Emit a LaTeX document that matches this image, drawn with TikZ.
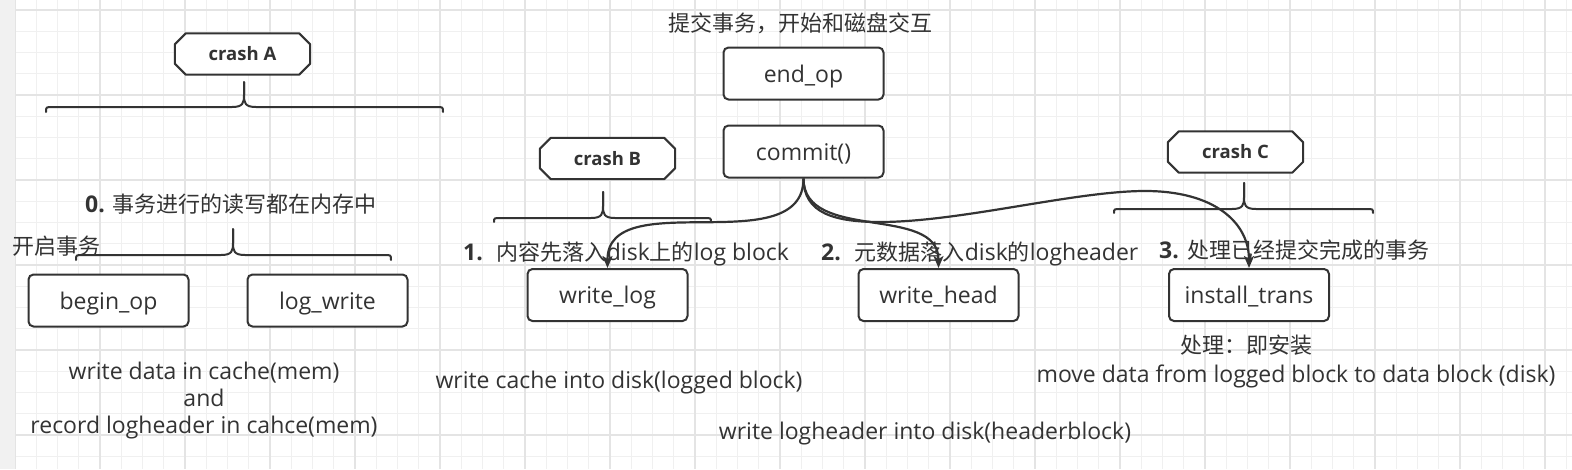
\documentclass[tikz,border=0pt]{standalone}
\usepackage{fontspec}
\setmainfont{Open Sans}
\newfontfamily\cjk{Noto Sans CJK SC}
\newcommand\zh[1]{{\cjk\fontsize{22}{27}\selectfont #1}}
\usetikzlibrary{arrows.meta}
\definecolor{ink}{HTML}{333333}
\definecolor{gridminor}{HTML}{F0F0F0}
\definecolor{gridmajor}{HTML}{E4E4E4}
\definecolor{strip}{HTML}{F1F1F1}
% L R M A E T
\newcommand\curlyb[6]{%
 \draw[bracel] (#1,#5) .. controls (#1,#4) .. (#1+7,#4) -- (#3-12,#4) .. controls (#3-1,#4) and (#3,#4-4) .. (#3,#4-12) -- (#3,#6);
 \draw[bracel] (#2,#5) .. controls (#2,#4) .. (#2-7,#4) -- (#3+12,#4) .. controls (#3+1,#4) and (#3,#4-4) .. (#3,#4-12) -- (#3,#6);}
\newcommand\crashbox[3]{%
 \node[crashtxt] (#1) at (#2) {};
 \filldraw[crashline] ([xshift=11pt]#1.north west) -- ([xshift=-11pt]#1.north east) -- ([yshift=-11pt]#1.north east) -- ([yshift=11pt]#1.south east) -- ([xshift=-11pt]#1.south east) -- ([xshift=11pt]#1.south west) -- ([yshift=11pt]#1.south west) -- ([yshift=-11pt]#1.north west) -- cycle;
 \node[crashtxt] at (#1.center) {#3};}
\begin{document}
\begin{tikzpicture}[x=1pt,y=-1pt,
  txt/.style={text=ink,font=\fontsize{23}{27}\selectfont,inner sep=0pt},
  box/.style={draw=ink,line width=2pt,rounded corners=5pt,fill=white,minimum width=160pt,minimum height=52pt,text=ink,font=\fontsize{23}{27}\selectfont,inner sep=0pt,text height=17pt,text depth=0pt},
  crashtxt/.style={minimum width=135pt,minimum height=41pt,inner sep=0pt,text=ink,font=\fontsize{18.5}{22}\selectfont\bfseries},
  crashline/.style={draw=ink,line width=2pt,fill=white,line join=round},
  bracel/.style={draw=ink,line width=2pt,line cap=round},
  arr/.style={draw=ink,line width=2.2pt,-{Stealth[length=12pt,width=10pt,inset=3pt]}}
]
\useasboundingbox (0,0) rectangle (1572,469);
% background and grid
\fill[white] (0,0) rectangle (1572,469);
\foreach \i in {0,...,73} {\draw[gridminor,line width=1pt] (15+21.25*\i,0) -- (15+21.25*\i,469);}
\foreach \i in {0,...,21} {\draw[gridminor,line width=1pt] (15,10+21.25*\i) -- (1572,10+21.25*\i);}
\foreach \i in {0,...,18} {\draw[gridmajor,line width=1.3pt] (15+85*\i,0) -- (15+85*\i,469);}
\foreach \i in {0,...,5} {\draw[gridmajor,line width=1.3pt] (15,10+85*\i) -- (1572,10+85*\i);}
\fill[strip] (0,0) rectangle (15,469);

% texts
\node[txt] (t0) at (800,23.5) {\zh{提交事务，开始和磁盘交互}};
\node[txt,anchor=west] (s0) at (85,204) {{\bfseries 0.}\hspace{8pt}\zh{事务进行的读写都在内存中}};
\node[txt,anchor=west] (kq) at (12,246) {\zh{开启事务}};
\node[txt,anchor=west] (s1) at (463,254) {{\bfseries 1.}\hspace{14pt}\zh{内容先落入}disk\zh{上的}log block};
\node[txt,anchor=west] (s2) at (821,254) {{\bfseries 2.}\hspace{14pt}\zh{元数据落入}disk\zh{的}logheader};
\node[txt,anchor=west] (s3) at (1159,250) {{\bfseries 3.}\hspace{9pt}\zh{处理已经提交完成的事务}};
\node[txt] (cl) at (1246,345) {\zh{处理：即安装}};
\node[txt] (mv) at (1296,376) {move data from logged block to data block (disk)};
\node[txt] (wc) at (619,383) {write cache into disk(logged block)};
\node[txt] (wh) at (925,434) {write logheader into disk(headerblock)};
\node[txt,align=center] (wd) at (204,401) {write data in cache(mem)\\and\\record logheader in cahce(mem)};

% braces
\curlyb{46}{443}{244}{107}{112}{82}
\curlyb{76}{391}{233}{255}{260}{229}
\curlyb{494}{711}{603}{218}{222}{192}
\curlyb{1114}{1373}{1244}{209}{213}{183}

% crash labels
\crashbox{ca}{242.5,54}{crash A}
\crashbox{cb}{607.5,158.5}{crash B}
\crashbox{cc}{1235.5,152}{crash C}

% boxes
\node[box] (beginop) at (108.5,300.5) {begin\_op};
\node[box] (logwrite) at (327.5,300.5) {log\_write};
\node[box] (endop) at (803.5,73.5) {end\_op};
\node[box] (commit) at (803.5,151.5) {commit()};
\node[box] (writelog) at (607.5,295) {write\_log};
\node[box] (writehead) at (938.5,295) {write\_head};
\node[box] (install) at (1249,295) {install\_trans};

% connectors
\coordinate (w1) at (880,222);
\coordinate (w2) at (1145,191);
\draw[arr] (commit.south) .. controls +(0,84) and +(0,-84) .. (writelog.north);
\draw[arr] (commit.south) .. controls +(0,64) and +(0,-64) .. (writehead.north);
\draw[arr] (commit.south) .. controls +(0,35) and +(-45,0) .. (w1) .. controls +(80,0) and +(-70,0) .. (w2) .. controls +(70,0) and +(0,-45) .. (install.north);
\end{tikzpicture}
\end{document}
